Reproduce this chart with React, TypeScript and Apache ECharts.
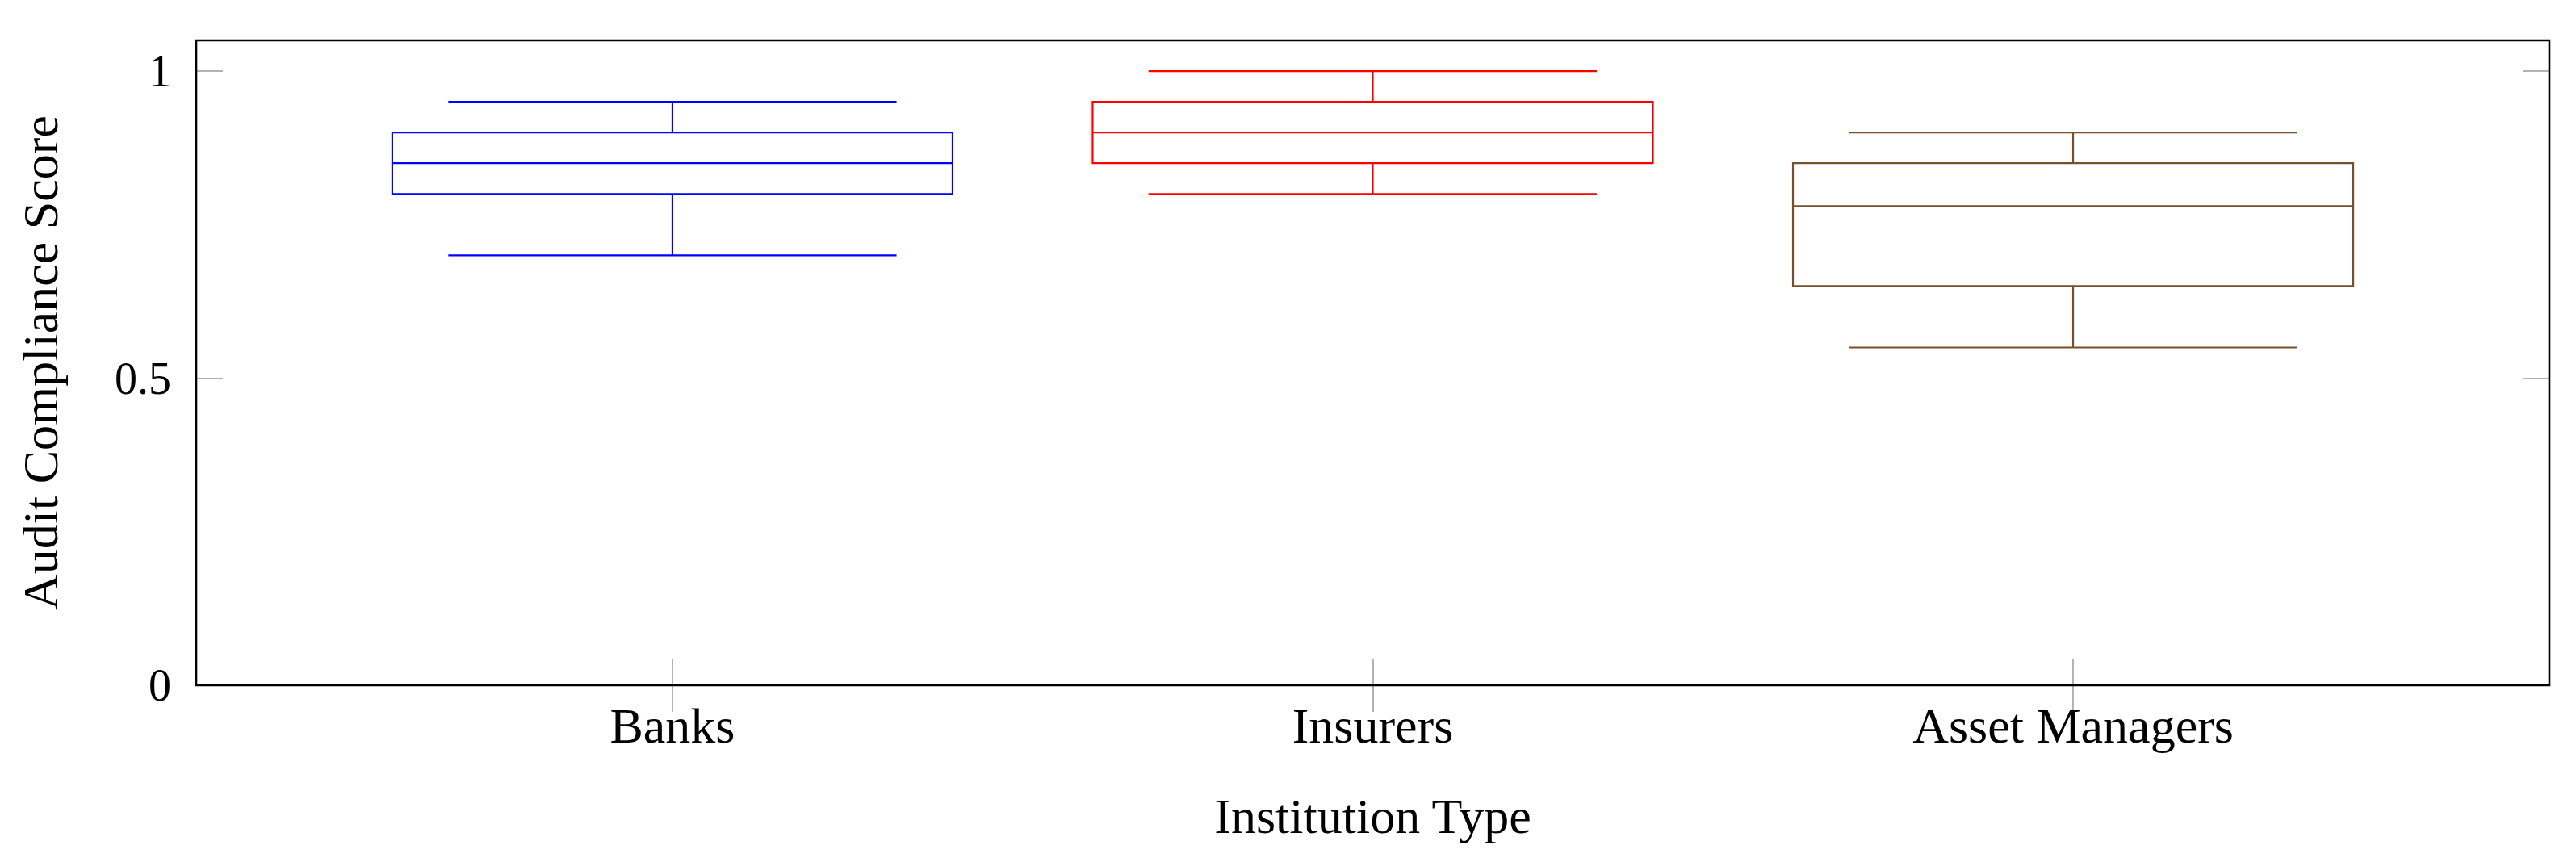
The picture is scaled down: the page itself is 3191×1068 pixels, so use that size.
import { useEffect, useRef } from 'react';
import * as echarts from 'echarts';

const categories = ['Banks', 'Insurers', 'Asset Managers'];
const categoryPositions = [1, 2, 3];
const lowWhisker = [0.7, 0.8, 0.55];
const lowerQuartile = [0.8, 0.85, 0.65];
const medians = [0.85, 0.9, 0.78];
const upperQuartile = [0.9, 0.95, 0.85];
const highWhisker = [0.95, 1.0, 0.9];
const boxColors = ['#0000ff', '#ff0000', '#75502b'];
const yTicks = [0, 0.5, 1];

const FONT = '"Liberation Serif", "Times New Roman", serif';

export default function App() {
  const chartRef = useRef<HTMLDivElement>(null);

  useEffect(() => {
    if (!chartRef.current) return;
    const chart = echarts.init(chartRef.current, undefined, { renderer: 'svg' });

    const boxData = categoryPositions.map((x, i) => [
      x,
      lowWhisker[i],
      lowerQuartile[i],
      medians[i],
      upperQuartile[i],
      highWhisker[i],
    ]);

    const tickStyle = {
      show: true,
      inside: true,
      length: 33,
      lineStyle: { color: '#9a9a9a', width: 1.5 },
    };

    const option: any = {
      animation: false,
      backgroundColor: '#ffffff',
      grid: {
        left: 243,
        right: 33,
        top: 50,
        bottom: 219,
        show: true,
        z: 5,
        backgroundColor: 'transparent',
        borderColor: '#000000',
        borderWidth: 2.6,
        outerBoundsMode: 'none',
      },
      xAxis: [
        {
          type: 'value',
          min: 0.32,
          max: 3.68,
          position: 'bottom',
          name: 'Institution Type',
          nameLocation: 'middle',
          nameGap: 162,
          nameTextStyle: {
            fontFamily: FONT,
            fontSize: 62,
            color: '#000',
            verticalAlign: 'middle',
          },
          axisLine: { show: false },
          splitLine: { show: false },
          axisTick: { ...tickStyle, customValues: categoryPositions },
          axisLabel: {
            customValues: categoryPositions,
            fontFamily: FONT,
            fontSize: 62,
            color: '#000',
            margin: 19,
            formatter: (v: number) => categories[Math.round(v) - 1] ?? '',
          },
        },
        {
          type: 'value',
          min: 0.32,
          max: 3.68,
          position: 'top',
          axisLine: { show: false },
          splitLine: { show: false },
          axisTick: { ...tickStyle, customValues: categoryPositions },
          axisLabel: { show: false },
        },
      ],
      yAxis: [
        {
          type: 'value',
          min: 0,
          max: 1.05,
          position: 'left',
          name: 'Audit Compliance Score',
          nameLocation: 'middle',
          nameGap: 193,
          nameRotate: 90,
          nameTextStyle: {
            fontFamily: FONT,
            fontSize: 62,
            color: '#000',
            verticalAlign: 'middle',
          },
          axisLine: { show: false },
          splitLine: { show: false },
          axisTick: { ...tickStyle, customValues: yTicks },
          axisLabel: {
            customValues: yTicks,
            fontFamily: FONT,
            fontSize: 56,
            color: '#000',
            margin: 31,
          },
        },
        {
          type: 'value',
          min: 0,
          max: 1.05,
          position: 'right',
          axisLine: { show: false },
          splitLine: { show: false },
          axisTick: { ...tickStyle, customValues: yTicks },
          axisLabel: { show: false },
        },
      ],
      series: [
        {
          type: 'custom',
          xAxisIndex: 0,
          yAxisIndex: 0,
          data: boxData,
          renderItem: (params: any, api: any) => {
            const x = api.value(0);
            const low = api.coord([x, api.value(1)]);
            const q1 = api.coord([x, api.value(2)]);
            const med = api.coord([x, api.value(3)]);
            const q3 = api.coord([x, api.value(4)]);
            const high = api.coord([x, api.value(5)]);
            const halfBox = api.size([0.4, 0])[0];
            const halfWhisker = api.size([0.32, 0])[0];
            const cx = med[0];
            const style = {
              stroke: boxColors[params.dataIndex],
              fill: 'none',
              lineWidth: 2.2,
            };
            return {
              type: 'group',
              children: [
                {
                  type: 'rect',
                  shape: { x: cx - halfBox, y: q3[1], width: halfBox * 2, height: q1[1] - q3[1] },
                  style,
                },
                {
                  type: 'line',
                  shape: { x1: cx - halfBox, y1: med[1], x2: cx + halfBox, y2: med[1] },
                  style,
                },
                {
                  type: 'line',
                  shape: { x1: cx, y1: q3[1], x2: cx, y2: high[1] },
                  style,
                },
                {
                  type: 'line',
                  shape: { x1: cx, y1: q1[1], x2: cx, y2: low[1] },
                  style,
                },
                {
                  type: 'line',
                  shape: { x1: cx - halfWhisker, y1: high[1], x2: cx + halfWhisker, y2: high[1] },
                  style,
                },
                {
                  type: 'line',
                  shape: { x1: cx - halfWhisker, y1: low[1], x2: cx + halfWhisker, y2: low[1] },
                  style,
                },
              ],
            };
          },
        },
      ],
    };

    chart.setOption(option);

    return () => {
      chart.dispose();
    };
  }, []);

  return (
    <div
      ref={chartRef}
      style={{ position: 'fixed', left: 0, top: 0, width: 3191, height: 1068, background: '#fff' }}
    />
  );
}
